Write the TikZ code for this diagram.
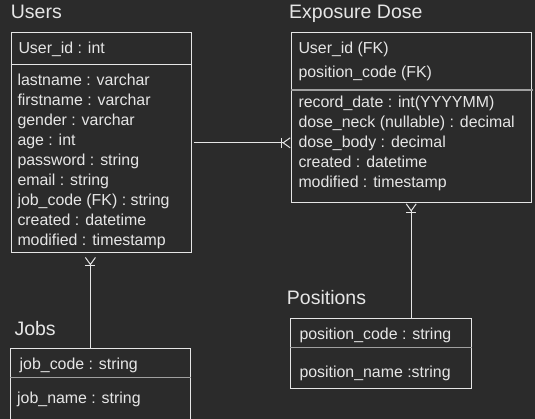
\documentclass[tikz,border=0pt]{standalone}
\usepackage{fontspec}
\setmainfont{Liberation Sans}
\usetikzlibrary{arrows.meta,positioning}
\definecolor{bg}{HTML}{2B2B2B}
\definecolor{ink}{HTML}{E6E6E6}
\definecolor{rule}{HTML}{A0A0A0}

\begin{document}
\begin{tikzpicture}
  [x=1pt,y=-1pt,
   tbl/.style={draw=ink,line width=1pt,anchor=north west,inner sep=0pt},
   title/.style={anchor=base west,inner sep=0pt,text=ink,font=\fontsize{19.5}{22}\selectfont},
   row/.style={anchor=base west,inner sep=0pt,text=ink,font=\fontsize{15.9}{20}\selectfont},
   crow/.style={draw=ink,line width=1pt,-{Bar[width=10pt] Straight Barb[reversed,length=7pt,width=10pt]}}]
  \useasboundingbox[fill=bg] (0,0) rectangle (535,419);

  % tables
  \node[tbl,minimum width=180pt,minimum height=220pt] (users) at (10.7,32.3) {};
  \node[tbl,minimum width=240pt,minimum height=170pt] (expo) at (290.7,32.3) {};
  \node[tbl,minimum width=180.6pt,minimum height=69.7pt] (pos) at (290,318.3) {};
  \node[tbl,minimum width=180.2pt,minimum height=80pt] (jobs) at (10.2,348.3) {};

  \draw[ink,line width=1pt] (users.west |- 0,64.3) -- (users.east |- 0,64.3);
  \draw[rule,line width=1.5pt] (expo.west |- 0,90) -- (533,90);
  \draw[rule,line width=1.5pt] (pos.west |- 0,347.7) -- (pos.east |- 0,347.7);
  \draw[rule,line width=1.5pt] (jobs.west |- 0,377.3) -- (jobs.east |- 0,377.3);

  % titles
  \node[title] (tu) at (10.7,19) {Users};
  \node[title] (te) at (289,18.3) {Exposure Dose};
  \node[title] (tp) at (286.7,305) {Positions};
  \node[title] (tj) at (14.3,335.7) {Jobs};

  % Users
  \node[row] (uid) at (18.3,53.3) {User\_id : int};
  \foreach \t [count=\i] in {lastname : varchar,firstname : varchar,gender : varchar,
    age : int,password : string,email : string,job\_code (FK) : string,
    created : datetime,modified : timestamp}
    \node[row] (u\i) at (17.3,{86+20*(\i-1)}) {\t};

  % Exposure Dose
  \node[row] (euid) at (298.3,53.3) {User\_id (FK)};
  \node[row] (epos) at (298.3,77.3) {position\_code (FK)};
  \foreach \t [count=\i] in {record\_date : int(YYYYMM),dose\_neck (nullable) : decimal,
    dose\_body : decimal,created : datetime,modified : timestamp}
    \node[row] (e\i) at (298.3,{107.3+20*(\i-1)}) {\t};

  % Positions
  \node[row] (pcode) at (299.3,339) {position\_code : string};
  \node[row] (pname) at (299.3,377) {position\_name :string};

  % Jobs
  \node[row] (jcode) at (19.5,369.3) {job\_code : string};
  \node[row] (jname) at (17,403.3) {job\_name : string};

  % relations
  \coordinate (uj) at (90.4,257);
  \draw[crow] ([xshift=2pt]users.east) -- (expo.west |- users.east);
  \draw[crow] (uj |- jobs.north) -- (uj);
  \draw[crow] (expo.south |- pos.north) -- (expo.south);

\end{tikzpicture}
\end{document}
